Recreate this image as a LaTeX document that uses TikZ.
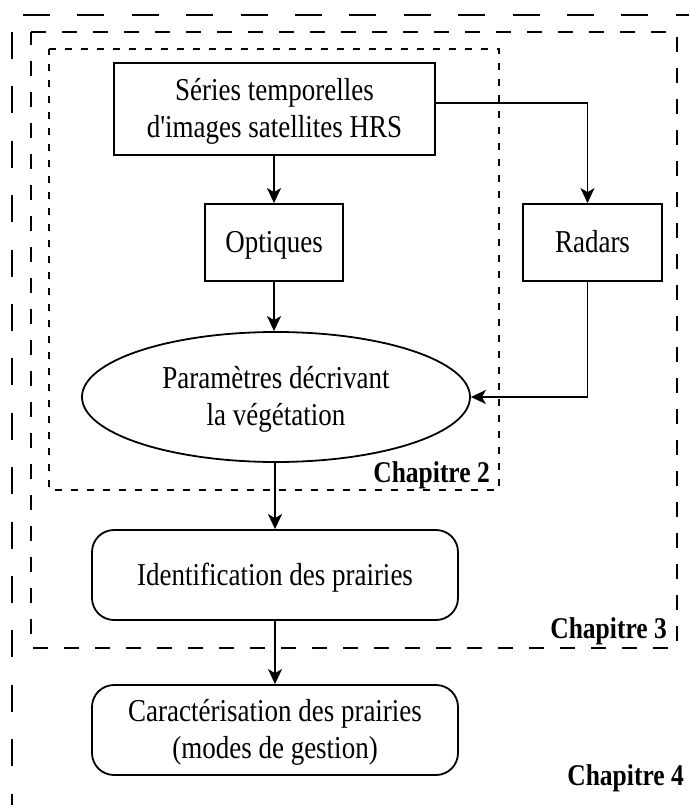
\documentclass[tikz,border=0pt]{standalone}
\usepackage{fontspec}
\usepackage{graphicx}
\setmainfont{Liberation Serif}
\usetikzlibrary{shapes.geometric,arrows.meta,calc}
\newcommand\vstr[1]{\scalebox{1}[1.18]{\begin{tabular}{@{}c@{}}\rule{0pt}{27pt}#1\end{tabular}}}
\begin{document}
\begin{tikzpicture}[x=1pt,y=-1pt,
  box/.style={draw,line width=1.8pt,inner sep=0pt,font=\fontsize{27}{31.5}\selectfont},
  rbox/.style={box,rounded corners=22pt},
  arr/.style={line width=1.6pt,-{Stealth[length=15pt,width=14pt,inset=4pt]}},
  chap/.style={font=\fontsize{25.5}{30}\selectfont\bfseries,inner sep=0pt},
  outerdash/.style={line width=1.6pt,dash pattern=on 27pt off 27.4pt},
  middash/.style={line width=1.6pt,dash pattern=on 15pt off 16pt},
  innerdash/.style={line width=1.6pt,dash pattern=on 7pt off 9pt}
]
\useasboundingbox (0,0) rectangle (689,805);
% dashed frames
\draw[outerdash] (23,15) -- (689,15);
\draw[outerdash] (12,32) -- (12,805);
\draw[middash] (31,32) -- (677,32) -- (677,648) -- (31,648) -- cycle;
\draw[innerdash] (49,49) -- (499,49) -- (499,490) -- (49,490) -- cycle;
% nodes
\node[box,minimum width=321pt,minimum height=92pt] (series) at (274.5,109) {\vstr{Séries temporelles\\d\textquotesingle images satellites HRS}};
\node[box,minimum width=138pt,minimum height=77pt] (opt) at (274,242.5) {\vstr{Optiques}};
\node[box,minimum width=139pt,minimum height=77pt] (radars) at (592.5,242.5) {\vstr{Radars}};
\node[box,ellipse,minimum width=388pt,minimum height=130pt] (ell) at (276,397) {\vstr{Paramètres décrivant\\la végétation}};
\node[rbox,minimum width=366pt,minimum height=90pt] (ident) at (275,575) {\vstr{Identification des prairies}};
\node[rbox,minimum width=366pt,minimum height=90pt] (caract) at (275,730) {\vstr{Caractérisation des prairies\\(modes de gestion)}};
% labels
\node[chap,anchor=base east] (c2) at (490,482) {\scalebox{1}[1.18]{Chapitre 2}};
\node[chap,anchor=base east] (c3) at (667,638) {\scalebox{1}[1.18]{Chapitre 3}};
\node[chap,anchor=base east] (c4) at (684,785) {\scalebox{1}[1.18]{Chapitre 4}};
% connectors
\coordinate (sr) at ($(series.east)+(0,-6)$);
\coordinate (rt) at ($(radars.north)+(-5,0)$);
\coordinate (rb) at ($(radars.south)+(-5,0)$);
\draw[arr] (series.south -| opt.north) -- (opt.north);
\draw[arr] (sr) -| (rt);
\draw[arr] (opt.south) -- (opt.south |- ell.north);
\draw[arr] (rb) |- (ell.east);
\draw[arr] (ell.south -| ident.north) -- (ident.north);
\draw[arr] (ident.south) -- (caract.north);
\end{tikzpicture}
\end{document}
